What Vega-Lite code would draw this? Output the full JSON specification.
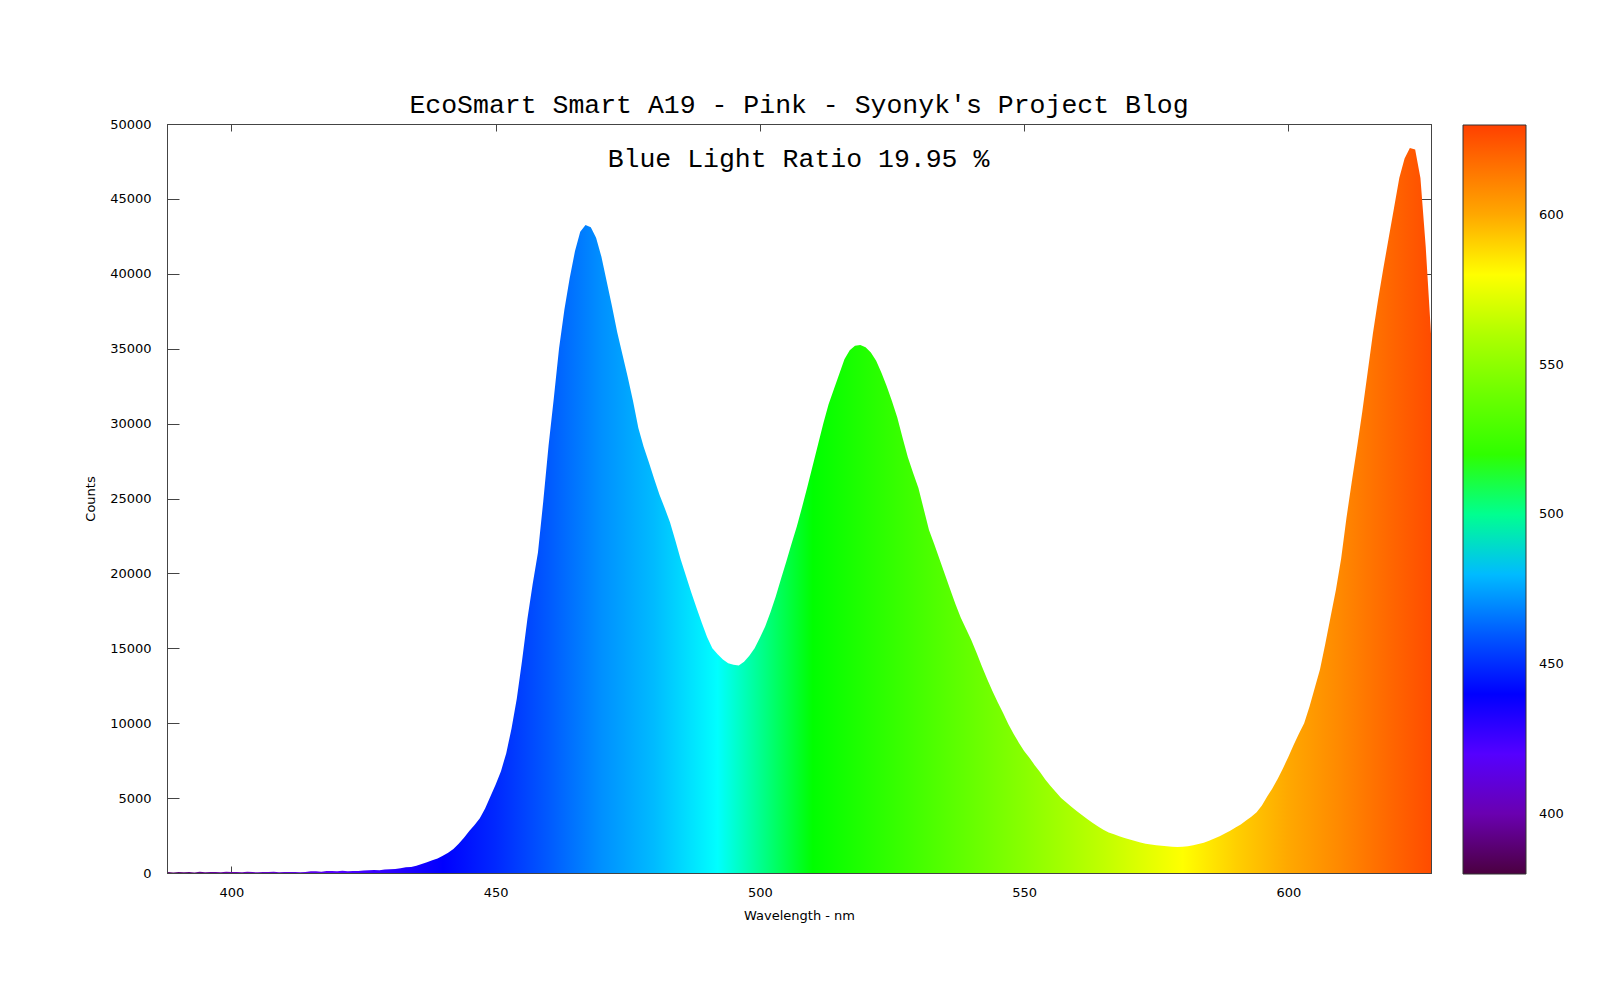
{
  "$schema": "https://vega.github.io/schema/vega-lite/v6.json",
  "width": 1264,
  "height": 749,
  "autosize": {"type": "none"},
  "padding": {"left": 167, "top": 124, "right": 169, "bottom": 127},
  "background": "white",
  "config": {
    "view": {"stroke": "#444", "strokeWidth": 1},
    "axis": {"grid": false, "domainColor": "#444", "tickColor": "#444", "labelFont": "DejaVu Sans", "labelFontSize": 13, "labelColor": "#000", "titleFont": "DejaVu Sans", "titleFontSize": 13, "titleFontWeight": "normal", "titleColor": "#000"}
  },
  "title": {"text": "EcoSmart Smart A19 - Pink - Syonyk's Project Blog", "font": "Liberation Mono", "fontSize": 26.5, "fontWeight": "normal", "color": "#000", "anchor": "middle", "baseline": "alphabetic", "offset": -21},
  "data": {"values": [
    {"w":388,"c":60},{"w":389,"c":40},{"w":390,"c":70},{"w":391,"c":50},{"w":392,"c":60},{"w":393,"c":40},{"w":394,"c":80},{"w":395,"c":50},{"w":396,"c":60},{"w":397,"c":70},
    {"w":398,"c":50},{"w":399,"c":80},{"w":400,"c":60},{"w":401,"c":70},{"w":402,"c":50},{"w":403,"c":80},{"w":404,"c":60},{"w":405,"c":50},{"w":406,"c":70},{"w":407,"c":60},
    {"w":408,"c":80},{"w":409,"c":50},{"w":410,"c":60},{"w":411,"c":70},{"w":412,"c":60},{"w":413,"c":50},{"w":414,"c":70},{"w":415,"c":120},{"w":416,"c":110},{"w":417,"c":90},
    {"w":418,"c":130},{"w":419,"c":140},{"w":420,"c":110},{"w":421,"c":150},{"w":422,"c":120},{"w":423,"c":140},{"w":424,"c":130},{"w":425,"c":160},{"w":426,"c":180},{"w":427,"c":200},
    {"w":428,"c":190},{"w":429,"c":230},{"w":430,"c":250},{"w":431,"c":260},{"w":432,"c":320},{"w":433,"c":380},{"w":434,"c":400},{"w":435,"c":480},{"w":436,"c":600},{"w":437,"c":720},
    {"w":438,"c":850},{"w":439,"c":960},{"w":440,"c":1150},{"w":441,"c":1350},{"w":442,"c":1600},{"w":443,"c":1950},{"w":444,"c":2350},{"w":445,"c":2800},{"w":446,"c":3200},{"w":447,"c":3650},
    {"w":448,"c":4300},{"w":449,"c":5100},{"w":450,"c":5900},{"w":451,"c":6800},{"w":452,"c":8000},{"w":453,"c":9650},{"w":454,"c":11650},{"w":455,"c":14200},{"w":456,"c":16950},{"w":457,"c":19300},
    {"w":458,"c":21400},{"w":459,"c":24800},{"w":460,"c":28500},{"w":461,"c":31700},{"w":462,"c":35050},{"w":463,"c":37600},{"w":464,"c":39700},{"w":465,"c":41500},{"w":466,"c":42800},{"w":467,"c":43250},
    {"w":468,"c":43100},{"w":469,"c":42400},{"w":470,"c":41150},{"w":471,"c":39500},{"w":472,"c":37850},{"w":473,"c":36100},{"w":474,"c":34600},{"w":475,"c":33100},{"w":476,"c":31500},{"w":477,"c":29700},
    {"w":478,"c":28450},{"w":479,"c":27400},{"w":480,"c":26300},{"w":481,"c":25250},{"w":482,"c":24350},{"w":483,"c":23400},{"w":484,"c":22200},{"w":485,"c":20950},{"w":486,"c":19850},{"w":487,"c":18750},
    {"w":488,"c":17700},{"w":489,"c":16700},{"w":490,"c":15750},{"w":491,"c":15000},{"w":492,"c":14600},{"w":493,"c":14250},{"w":494,"c":14000},{"w":495,"c":13900},{"w":496,"c":13850},{"w":497,"c":14100},
    {"w":498,"c":14500},{"w":499,"c":15000},{"w":500,"c":15700},{"w":501,"c":16450},{"w":502,"c":17400},{"w":503,"c":18450},{"w":504,"c":19650},{"w":505,"c":20800},{"w":506,"c":22000},{"w":507,"c":23150},
    {"w":508,"c":24450},{"w":509,"c":25800},{"w":510,"c":27200},{"w":511,"c":28600},{"w":512,"c":30000},{"w":513,"c":31300},{"w":514,"c":32300},{"w":515,"c":33300},{"w":516,"c":34300},{"w":517,"c":34900},
    {"w":518,"c":35200},{"w":519,"c":35250},{"w":520,"c":35100},{"w":521,"c":34750},{"w":522,"c":34200},{"w":523,"c":33400},{"w":524,"c":32500},{"w":525,"c":31500},{"w":526,"c":30400},{"w":527,"c":29050},
    {"w":528,"c":27750},{"w":529,"c":26700},{"w":530,"c":25700},{"w":531,"c":24300},{"w":532,"c":22900},{"w":533,"c":21950},{"w":534,"c":20950},{"w":535,"c":19950},{"w":536,"c":18950},{"w":537,"c":17950},
    {"w":538,"c":17050},{"w":539,"c":16300},{"w":540,"c":15550},{"w":541,"c":14700},{"w":542,"c":13800},{"w":543,"c":12950},{"w":544,"c":12150},{"w":545,"c":11400},{"w":546,"c":10700},{"w":547,"c":9950},
    {"w":548,"c":9300},{"w":549,"c":8700},{"w":550,"c":8150},{"w":551,"c":7700},{"w":552,"c":7200},{"w":553,"c":6750},{"w":554,"c":6250},{"w":555,"c":5800},{"w":556,"c":5400},{"w":557,"c":5000},
    {"w":558,"c":4700},{"w":559,"c":4400},{"w":560,"c":4130},{"w":561,"c":3850},{"w":562,"c":3580},{"w":563,"c":3330},{"w":564,"c":3100},{"w":565,"c":2880},{"w":566,"c":2700},{"w":567,"c":2580},
    {"w":568,"c":2450},{"w":569,"c":2330},{"w":570,"c":2230},{"w":571,"c":2130},{"w":572,"c":2040},{"w":573,"c":1960},{"w":574,"c":1910},{"w":575,"c":1860},{"w":576,"c":1820},{"w":577,"c":1780},
    {"w":578,"c":1750},{"w":579,"c":1730},{"w":580,"c":1750},{"w":581,"c":1780},{"w":582,"c":1850},{"w":583,"c":1930},{"w":584,"c":2020},{"w":585,"c":2160},{"w":586,"c":2300},{"w":587,"c":2460},
    {"w":588,"c":2640},{"w":589,"c":2820},{"w":590,"c":3030},{"w":591,"c":3230},{"w":592,"c":3500},{"w":593,"c":3750},{"w":594,"c":4050},{"w":595,"c":4500},{"w":596,"c":5100},{"w":597,"c":5650},
    {"w":598,"c":6300},{"w":599,"c":7000},{"w":600,"c":7750},{"w":601,"c":8550},{"w":602,"c":9300},{"w":603,"c":10000},{"w":604,"c":11100},{"w":605,"c":12350},{"w":606,"c":13600},{"w":607,"c":15300},
    {"w":608,"c":17100},{"w":609,"c":18900},{"w":610,"c":21000},{"w":611,"c":23700},{"w":612,"c":26100},{"w":613,"c":28400},{"w":614,"c":30800},{"w":615,"c":33400},{"w":616,"c":36000},{"w":617,"c":38300},
    {"w":618,"c":40400},{"w":619,"c":42400},{"w":620,"c":44400},{"w":621,"c":46400},{"w":622,"c":47700},{"w":623,"c":48400},{"w":624,"c":48300},{"w":625,"c":46400},{"w":626,"c":41800},{"w":627,"c":36000}
  ]},
  "layer": [
    {
      "mark": {"type": "area", "interpolate": "linear", "color": {"gradient": "linear", "x1": 0, "y1": 0, "x2": 1, "y2": 0, "stops": [
        {"offset": 0, "color": "#56006b"},
        {"offset": 0.0502, "color": "#6a00b0"},
        {"offset": 0.1339, "color": "#5500ff"},
        {"offset": 0.2176, "color": "#0000ff"},
        {"offset": 0.2594, "color": "#0028ff"},
        {"offset": 0.3013, "color": "#005aff"},
        {"offset": 0.3431, "color": "#0090ff"},
        {"offset": 0.3849, "color": "#00bbff"},
        {"offset": 0.4351, "color": "#00ffff"},
        {"offset": 0.4686, "color": "#00ff90"},
        {"offset": 0.5105, "color": "#00ff00"},
        {"offset": 0.5941, "color": "#44ff00"},
        {"offset": 0.6778, "color": "#88ff00"},
        {"offset": 0.7406, "color": "#c0ff00"},
        {"offset": 0.8033, "color": "#ffff00"},
        {"offset": 0.8452, "color": "#ffd000"},
        {"offset": 0.887, "color": "#ffa800"},
        {"offset": 0.9289, "color": "#ff8800"},
        {"offset": 0.9707, "color": "#ff6400"},
        {"offset": 1, "color": "#ff4c00"}
      ]}},
      "encoding": {
        "x": {"field": "w", "type": "quantitative", "scale": {"domain": [387.8, 627], "nice": false, "zero": false},
              "axis": {"orient": "bottom", "values": [400, 450, 500, 550, 600], "tickSize": -7, "labelPadding": 20, "title": "Wavelength - nm", "titlePadding": 10}},
        "y": {"field": "c", "type": "quantitative", "scale": {"domain": [0, 50000], "nice": false},
              "axis": {"orient": "left", "values": [0,5000,10000,15000,20000,25000,30000,35000,40000,45000,50000], "format": "d", "tickSize": -12, "labelPadding": 28, "title": "Counts", "titlePadding": 12}}
      }
    },
    {
      "mark": {"type": "point", "opacity": 0},
      "encoding": {
        "x": {"field": "w", "type": "quantitative",
              "axis": {"orient": "top", "values": [400, 450, 500, 550, 600], "tickSize": -7, "labels": false, "title": null}},
        "y": {"field": "c", "type": "quantitative",
              "axis": {"orient": "right", "values": [0,5000,10000,15000,20000,25000,30000,35000,40000,45000,50000], "tickSize": -12, "labels": false, "title": null}},
        "color": {"field": "w", "type": "quantitative",
                  "scale": {"domain": [380,400,420,440,450,460,470,480,492,500,510,530,550,565,580,590,600,610,620,630],
                            "range": ["#4b0040","#6a00b0","#5500ff","#0000ff","#0028ff","#005aff","#0090ff","#00bbff","#00ffff","#00ff90","#00ff00","#44ff00","#88ff00","#c0ff00","#ffff00","#ffd000","#ffa800","#ff8800","#ff6400","#ff4000"]},
                  "legend": {"orient": "none", "legendX": 1296, "legendY": 1, "direction": "vertical", "title": null, "padding": 0,
                             "gradientLength": 749, "gradientThickness": 63, "gradientStrokeColor": "#333", "gradientStrokeWidth": 1,
                             "values": [400, 450, 500, 550, 600], "labelFont": "DejaVu Sans", "labelFontSize": 13, "labelColor": "#000", "labelOffset": 13, "labelOverlap": false}}
      }
    },
    {
      "data": {"values": [{"label": "Blue Light Ratio 19.95 %"}]},
      "mark": {"type": "text", "font": "Liberation Mono", "fontSize": 26.5, "color": "#000", "align": "center", "baseline": "alphabetic"},
      "encoding": {
        "x": {"datum": 507.3, "type": "quantitative", "axis": null},
        "y": {"datum": 47130, "type": "quantitative", "axis": null},
        "text": {"field": "label"}
      }
    }
  ],
  "resolve": {"axis": {"x": "independent", "y": "independent"}}
}
